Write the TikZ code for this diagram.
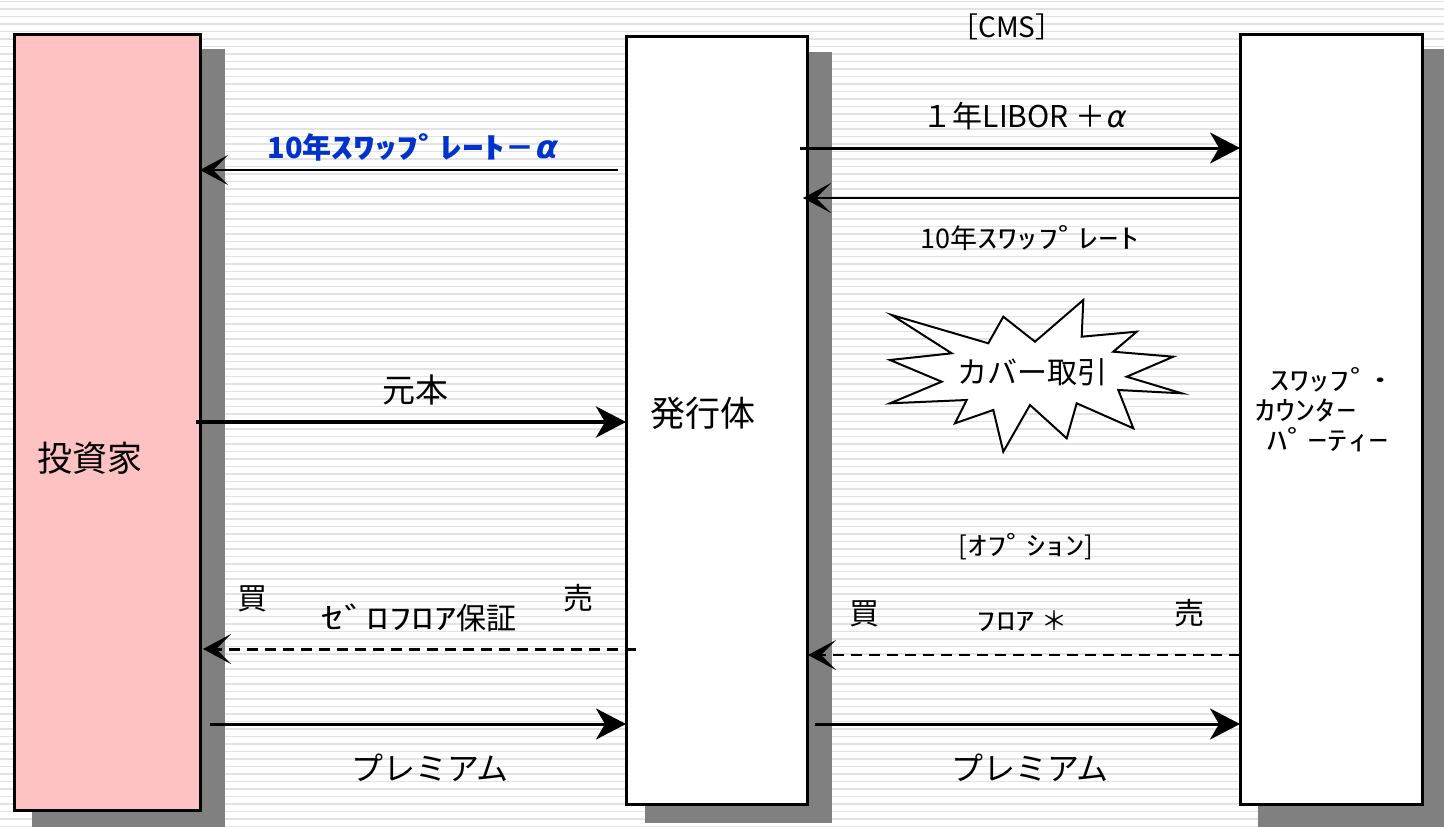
\documentclass[tikz,border=0pt]{standalone}
\usepackage{fontspec}
\setmainfont{Noto Sans CJK JP}
\newfontfamily\hkfont[FakeStretch=1.5]{Noto Sans CJK JP}
\newfontfamily\grk[FakeSlant=0.22]{DejaVu Sans}
\newcommand{\hk}[1]{{\hkfont #1}}
\usetikzlibrary{arrows.meta,calc}
\definecolor{pinkbox}{HTML}{FFC2C2}
\definecolor{shadowgray}{HTML}{808080}
\definecolor{stripegray}{HTML}{E2E2E2}
\definecolor{bluetext}{HTML}{0033CC}
\newcommand{\fs}[1]{\fontsize{#1}{#1}\selectfont}
\begin{document}
\begin{tikzpicture}[x=1pt,y=-1pt,
  box/.style={draw=black,line width=3pt,outer sep=0pt,inner sep=0pt},
  stripeline/.style={draw=stripegray,line width=1.6pt},
  lbl/.style={inner sep=0pt,outer sep=0pt,text=black},
  bighead/.style={-{Stealth[length=30pt,width=31pt,inset=9pt]}},
  barbhead/.style={-{Stealth[length=28pt,width=30pt,inset=15pt]}},
  dashpat/.style={dash pattern=on 11pt off 7pt},
  burst/.style={draw=black,line width=2pt,fill=white,line join=miter}
]
\useasboundingbox (0,0) rectangle (1444,827);
\fill[white] (0,0) rectangle (1444,827);
\foreach \i in {0,...,110} {\draw[stripeline] (0,{\i*7.5+1.5}) -- (1444,{\i*7.5+1.5});}

% shadows
\fill[shadowgray] (32,49) rectangle (225,827);
\fill[shadowgray] (645,52) rectangle (832,823);
\fill[shadowgray] (1258,49) rectangle (1444,827);

% boxes
\node[box,fill=pinkbox,minimum width=186pt,minimum height=776pt] (inv) at (107,422) {};
\node[box,fill=white,minimum width=181pt,minimum height=768pt] (iss) at (716.5,420) {};
\node[box,fill=white,minimum width=182pt,minimum height=770pt] (cp) at (1331,419) {};

% box labels
\node[lbl,font=\fs{35}] (tinv) at (90,458) {投資家};
\node[lbl,font=\fs{35}] (tiss) at (703,413) {発行体};
\node[lbl,font=\fs{27},align=left,anchor=west] (tcp) at (1255,410)
  {\hspace*{14pt}\hk{ｽﾜｯﾌﾟ･}\\[3pt]\hk{ｶｳﾝﾀｰ}\\[3pt]\hspace*{12pt}\hk{ﾊﾟｰﾃｨｰ}};

% CMS section
\node[lbl,font=\fs{28}] (cms) at (1007,27) {［CMS］};
\node[lbl,font=\fs{30}] (libor) at (1024,116) {１年LIBOR ＋{\grk α}};
\draw[line width=3pt,bighead] ([xshift=-7pt]iss.east |- 0,148) -- (cp.west |- 0,148);
\draw[line width=2pt,barbhead] (cp.west |- 0,198) -- ([xshift=-4pt]iss.east |- 0,198);
\node[lbl,font=\fs{27}] (swr) at (1030,238) {10年\hk{ｽﾜｯﾌﾟﾚｰﾄ}};

% blue
\node[lbl,font=\fs{29}\bfseries,text=bluetext] (blue) at (412,147) {10年\hk{ｽﾜｯﾌﾟﾚｰﾄ}－{\grk\fs{32}α}};
\draw[line width=2pt,barbhead] ([xshift=-8pt]iss.west |- 0,170) -- (inv.east |- 0,170);

% starburst
\draw[burst] (891.7,315) -- (951.7,353.3) -- (890,360) -- (941.7,381.7) -- (890,403.3)
  -- (966.7,400) -- (955,423.3) -- (993.3,410) -- (1003.3,451.7) -- (1030,405)
  -- (1066.7,438.3) -- (1076.7,403.3) -- (1133.3,428.3) -- (1118.3,390) -- (1181.7,393.3)
  -- (1126.7,376.7) -- (1173.3,356.7) -- (1113.3,351.7) -- (1136.7,331.7) -- (1081.7,336.7)
  -- (1083.3,300) -- (1035,341.7) -- (1003.3,316.7) -- (988.3,343.3) -- cycle;
\node[lbl,font=\fs{30}] (cover) at (1032,372) {カバー取引};

% principal
\node[lbl,font=\fs{33}] (gan) at (415,390) {元本};
\draw[line width=4.5pt,bighead] ([xshift=-4pt]inv.east |- 0,422) -- (iss.west |- 0,422);

% option section
\node[lbl,font=\fs{26}] (opt) at (1026,547) {[\hk{ｵﾌﾟｼｮﾝ}]};
\node[lbl,font=\fs{30}] (buyR) at (864,614) {買};
\node[lbl,font=\fs{30}] (sellR) at (1189,613) {売};
\node[lbl,font=\fs{26}] (floor) at (1022,621) {\hk{ﾌﾛｱ} ＊};
\draw[line width=2pt,dashpat,barbhead] (cp.west |- 0,655) -- ([xshift=1pt]iss.east |- 0,655);

\node[lbl,font=\fs{30}] (buyL) at (252,599) {買};
\node[lbl,font=\fs{30}] (sellL) at (578,598) {売};
\node[lbl,font=\fs{30}] (zero) at (419,618) {\hk{ｾﾞﾛﾌﾛｱ}保証};
\draw[line width=3pt,dashpat,barbhead] ([xshift=10pt]iss.west |- 0,649) -- ([xshift=3pt]inv.east |- 0,649);

% premium
\draw[line width=3pt,bighead] ([xshift=10pt]inv.east |- 0,724) -- (iss.west |- 0,724);
\draw[line width=3pt,bighead] ([xshift=8pt]iss.east |- 0,724) -- (cp.west |- 0,724);
\node[lbl,font=\fs{32}] (premL) at (430,768) {プレミアム};
\node[lbl,font=\fs{32}] (premR) at (1030,768) {プレミアム};
\end{tikzpicture}
\end{document}
